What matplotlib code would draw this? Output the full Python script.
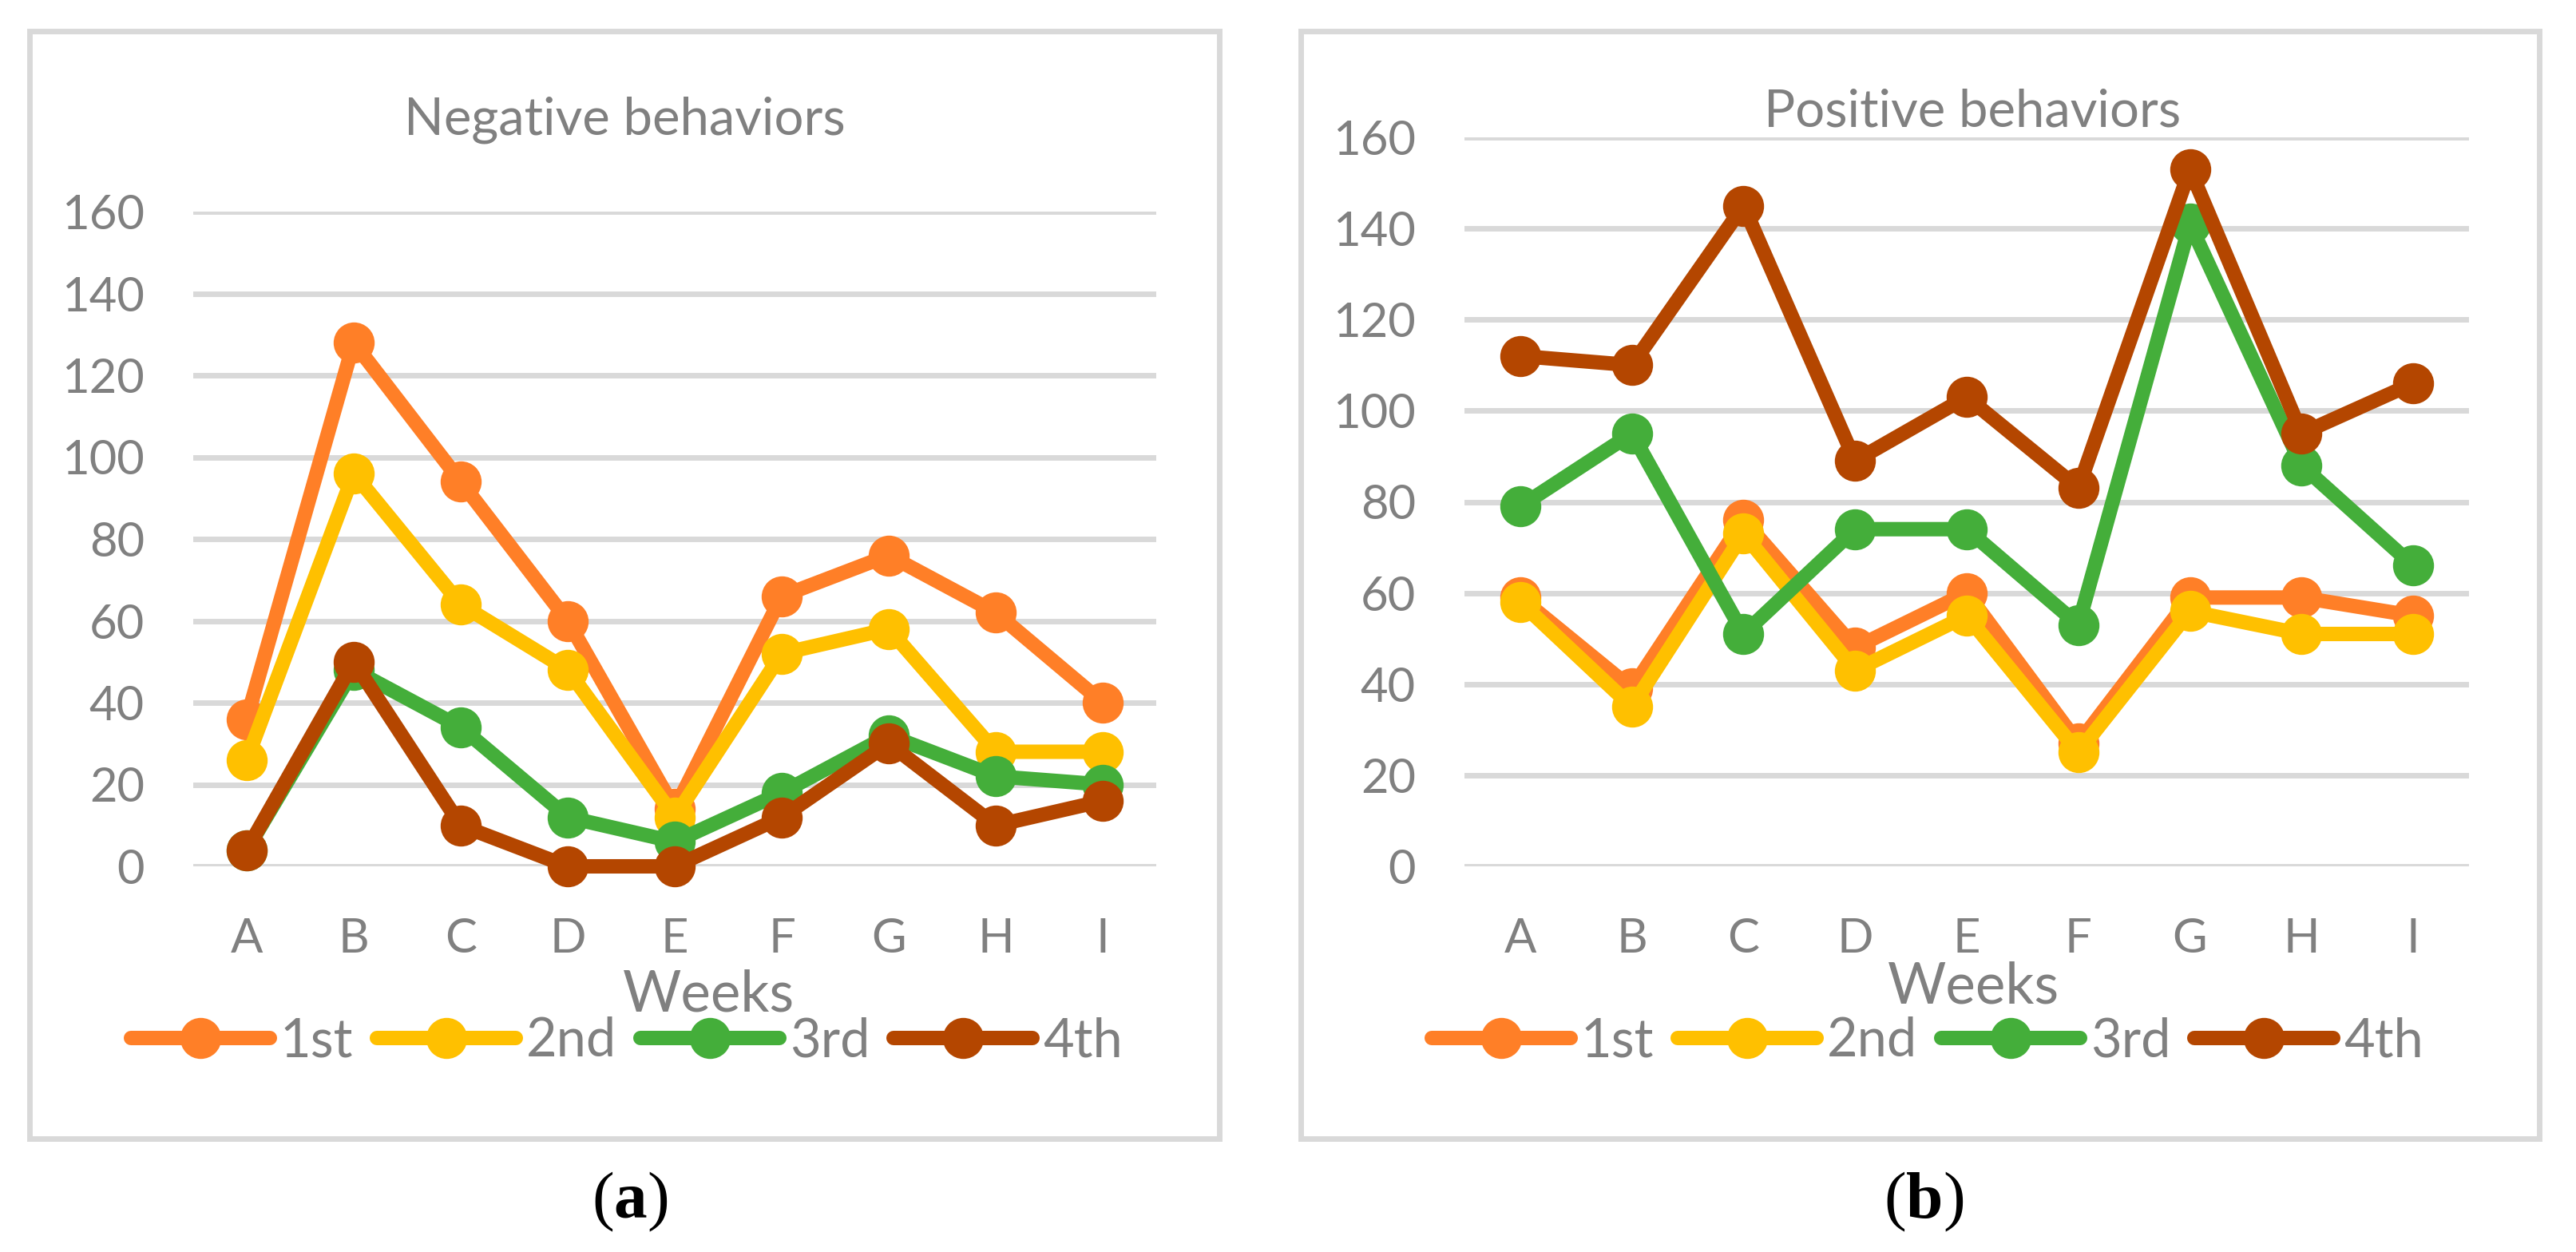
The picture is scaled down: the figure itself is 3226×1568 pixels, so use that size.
import matplotlib
matplotlib.use("Agg")
import matplotlib.pyplot as plt
from matplotlib.patches import Rectangle

weeks = ["A", "B", "C", "D", "E", "F", "G", "H", "I"]
series_names = ["1st", "2nd", "3rd", "4th"]
colors = ["#FF7F27", "#FFC000", "#44AE3A", "#B44600"]

neg_1st = [36, 128, 94, 60, 14, 66, 76, 62, 40]
neg_2nd = [26, 96, 64, 48, 12, 52, 58, 28, 28]
neg_3rd = [4, 48, 34, 12, 6, 18, 32, 22, 20]
neg_4th = [4, 50, 10, 0, 0, 12, 30, 10, 16]

pos_1st = [59, 39, 76, 48, 60, 27, 59, 59, 55]
pos_2nd = [58, 35, 73, 43, 55, 25, 56, 51, 51]
pos_3rd = [79, 95, 51, 74, 74, 53, 141, 88, 66]
pos_4th = [112, 110, 145, 89, 103, 83, 153, 95, 106]

yticks = [0, 20, 40, 60, 80, 100, 120, 140, 160]

W, H = 3226, 1568
DPI = 200
plt.rcParams['font.family'] = ['Lato', 'DejaVu Sans']
plt.rcParams['mathtext.fontset'] = 'custom'
plt.rcParams['mathtext.rm'] = 'Liberation Serif'
plt.rcParams['mathtext.bf'] = 'Liberation Serif:bold'
TXT = "#808080"
GRID = "#D9D9D9"

fig = plt.figure(figsize=(W / DPI, H / DPI), dpi=DPI)
fig.patch.set_facecolor("white")


def fx(px):
    return px / W


def fy(py):
    return 1 - py / H


def panel(x0, x1, y0, y160, data, title, tcx, tcy, wcx, wcy, lcx, lcy, frame, sub, scx):
    ax = fig.add_axes([fx(x0), fy(y0), fx(x1) - fx(x0), fy(y160) - fy(y0)])
    ax.set_xlim(-0.5, len(weeks) - 0.5)
    ax.set_ylim(0, 160)
    for s in ax.spines.values():
        s.set_visible(False)
    ax.set_yticks(yticks)
    ax.set_xticks(range(len(weeks)))
    ax.set_xticklabels(weeks)
    ax.tick_params(axis='both', length=0, labelcolor=TXT, labelsize=21.5)
    ax.tick_params(axis='x', pad=23)
    ax.tick_params(axis='y', pad=22)
    ax.yaxis.grid(True, color=GRID, linewidth=2.5)
    ax.set_axisbelow(True)
    for i, (vals, name, c) in enumerate(zip(data, series_names, colors)):
        ax.plot(range(len(weeks)), vals, color=c, linewidth=6.5, marker='o',
                markersize=17.5, label=name, solid_joinstyle='round',
                solid_capstyle='round', clip_on=False, zorder=3 + i)
    fig.text(fx(tcx), fy(tcy), title, ha='center', va='center', color=TXT, fontsize=23.5)
    fig.text(fx(wcx), fy(wcy), "Weeks", ha='center', va='center', color=TXT, fontsize=25.5)
    ax.legend(loc='center', bbox_to_anchor=(fx(lcx), fy(lcy)), bbox_transform=fig.transFigure,
              ncol=4, frameon=False, fontsize=24, labelcolor=TXT, handlelength=2.6,
              handletextpad=0.2, columnspacing=0.45, borderpad=0, borderaxespad=0)
    fx0, fx1, fy0, fy1 = frame
    fig.patches.append(Rectangle((fx(fx0), fy(fy1)), fx(fx1) - fx(fx0), fy(fy0) - fy(fy1),
                                 transform=fig.transFigure, fill=False, edgecolor=GRID,
                                 linewidth=2.5, zorder=0))
    fig.text(fx(scx), fy(1505), r"$\mathrm{(}\mathbf{" + sub + r"}\mathrm{)}$",
             ha='center', va='center', fontsize=30, color='black')
    return ax


neg = [neg_1st, neg_2nd, neg_3rd, neg_4th]
pos = [pos_1st, pos_2nd, pos_3rd, pos_4th]

panel(242, 1448, 1085, 265, neg, "Negative behaviors", 782, 150, 887, 1246, 785, 1304,
      (37, 1527, 39, 1426), "a", 789)
panel(1834, 3092, 1085, 172, pos, "Positive behaviors", 2470, 140, 2471, 1236, 2414, 1304,
      (1629, 3180, 39, 1426), "b", 2409)

fig.savefig("out.png", dpi=DPI, facecolor="white")
